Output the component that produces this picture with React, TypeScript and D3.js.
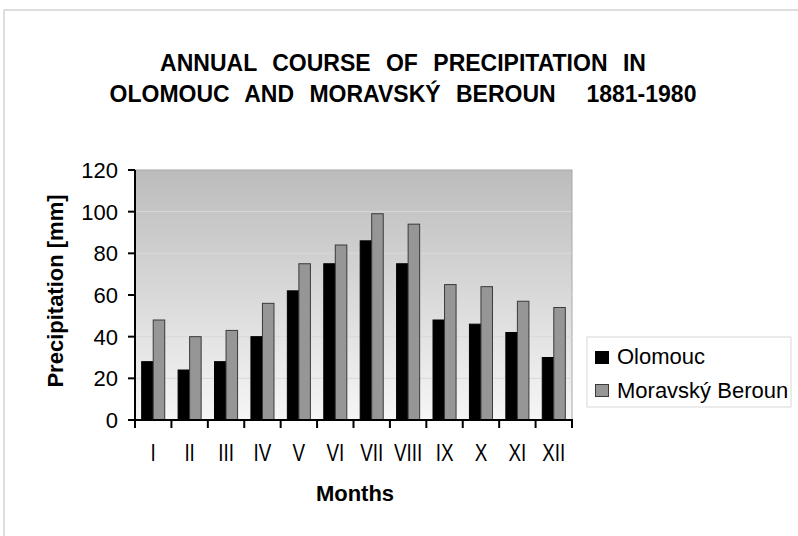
import React from "react";
import * as d3 from "d3";

const months = ["I", "II", "III", "IV", "V", "VI", "VII", "VIII", "IX", "X", "XI", "XII"];
const olomouc = [28, 24, 28, 40, 62, 75, 86, 75, 48, 46, 42, 30];
const moravskyBeroun = [48, 40, 43, 56, 75, 84, 99, 94, 65, 64, 57, 54];
const yTicks = [0, 20, 40, 60, 80, 100, 120];
const seriesNames = ["Olomouc", "Moravský Beroun"];
const titleLines = ["ANNUAL COURSE OF PRECIPITATION IN", "OLOMOUC AND MORAVSKÝ BEROUN\u00a0 1881-1980"];

const W = 798;
const H = 536;
const plot = { left: 135, right: 572, top: 170, bottom: 420 };
const FONT = "'Liberation Sans', Arial, sans-serif";

export default function App() {
  const x = d3.scaleBand().domain(months).range([plot.left, plot.right]).paddingInner(0).paddingOuter(0);
  const y = d3.scaleLinear().domain([0, 120]).range([plot.bottom, plot.top]);
  const inner = d3.scaleBand().domain(["o", "m"]).range([0, x.bandwidth()]).paddingOuter(0.58).paddingInner(0);
  const series = [
    { key: "o", values: olomouc, fill: "#000000", stroke: "#000000" },
    { key: "m", values: moravskyBeroun, fill: "#969696", stroke: "#3a3a3a" },
  ];
  const cx = (m: string) => (x(m) ?? 0) + x.bandwidth() / 2;
  return (
    <svg width={W} height={H} style={{ position: "absolute", left: 0, top: 0, background: "#fff" }} fontFamily={FONT}>
      <defs>
        <linearGradient id="bg" x1="0" y1="0" x2="0" y2="1">
          <stop offset="0%" stopColor="#bcbcbc" />
          <stop offset="100%" stopColor="#f6f6f6" />
        </linearGradient>
      </defs>
      <rect x={4} y={10} width={820} height={560} fill="#fff" stroke="#d4d4d4" strokeWidth={1.5} />
      {titleLines.map((t, i) => (
        <text key={i} x={403} y={71 + i * 31} fontSize={23} fontWeight="bold" textAnchor="middle" style={{ wordSpacing: "9px" }}>
          {t}
        </text>
      ))}
      <rect x={plot.left} y={plot.top} width={plot.right - plot.left} height={plot.bottom - plot.top} fill="url(#bg)" stroke="#a8a8a8" strokeWidth={1} />
      {yTicks.slice(1, -1).map((t) => (
        <line key={t} x1={plot.left} x2={plot.right} y1={y(t)} y2={y(t)} stroke="#d9d9d9" strokeWidth={1} />
      ))}
      {series.map((s) =>
        months.map((m, i) => (
          <rect
            key={s.key + m}
            x={(x(m) ?? 0) + (inner(s.key) ?? 0)}
            y={y(s.values[i])}
            width={inner.bandwidth()}
            height={y(0) - y(s.values[i])}
            fill={s.fill}
            stroke={s.stroke}
            strokeWidth={1}
          />
        ))
      )}
      <line x1={plot.left} x2={plot.left} y1={plot.top} y2={plot.bottom} stroke="#000" strokeWidth={2} />
      <line x1={plot.left - 1} x2={plot.right + 1} y1={plot.bottom} y2={plot.bottom} stroke="#000" strokeWidth={2} />
      {yTicks.map((t) => (
        <g key={t}>
          <line x1={plot.left - 7} x2={plot.left} y1={y(t)} y2={y(t)} stroke="#000" strokeWidth={2} />
          <text x={118} y={y(t)} dy="0.36em" fontSize={22} textAnchor="end">{t}</text>
        </g>
      ))}
      {[...months.map((m) => x(m) ?? 0), plot.right].map((v, i) => (
        <line key={i} x1={v} x2={v} y1={plot.bottom} y2={plot.bottom + 8} stroke="#000" strokeWidth={2} />
      ))}
      {months.map((m) => (
        <text key={m} x={0} y={461} fontSize={23} textAnchor="middle" transform={`translate(${cx(m)},0) scale(0.82,1)`}>
          {m}
        </text>
      ))}
      <text x={355} y={501} fontSize={22} fontWeight="bold" textAnchor="middle">Months</text>
      <text transform={`translate(63,291) rotate(-90)`} fontSize={22} fontWeight="bold" textAnchor="middle">
        Precipitation [mm]
      </text>
      <rect x={587} y={337} width={204} height={70} fill="#fff" stroke="#d8d8d8" strokeWidth={1} />
      {seriesNames.map((name, i) => (
        <g key={name}>
          <rect x={595.5} y={351.5 + i * 33} width={13} height={12} fill={series[i].fill} stroke={series[i].stroke} strokeWidth={1} />
          <text x={617} y={364 + i * 34} fontSize={22}>{name}</text>
        </g>
      ))}
    </svg>
  );
}
